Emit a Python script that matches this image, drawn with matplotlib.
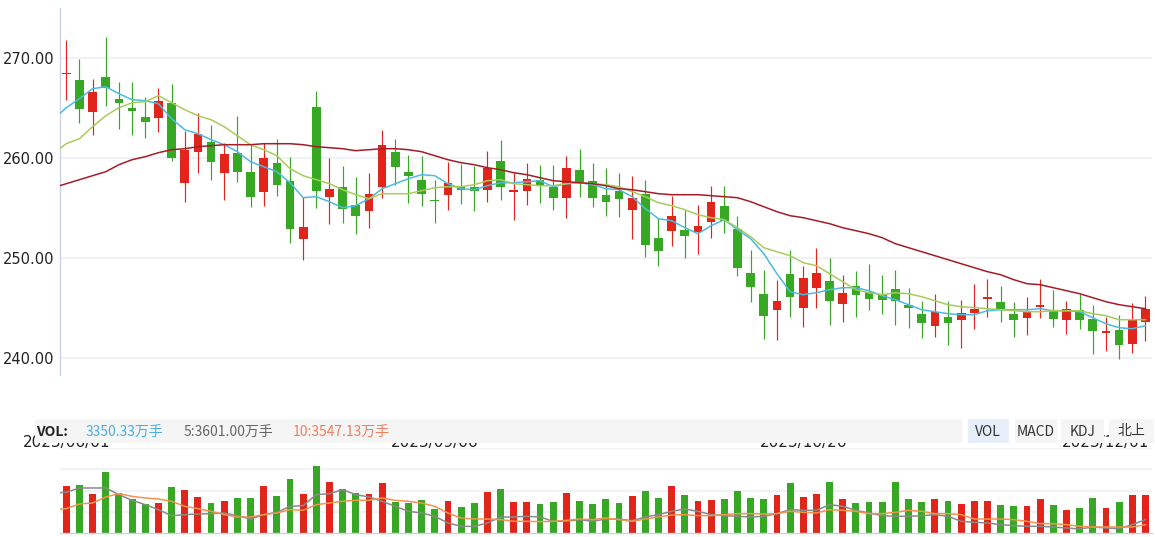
import numpy as np
import matplotlib
matplotlib.use("Agg")
import matplotlib.pyplot as plt
from matplotlib.patches import Rectangle

# daily candles, oldest first
opens = [268.4, 267.8, 264.6, 268.1, 265.9, 265.0, 264.1, 264.0, 265.5, 257.5,
         260.6, 261.6, 258.5, 260.5, 258.6, 256.6, 259.5, 257.7, 251.9, 265.1,
         256.1, 257.1, 255.3, 254.7, 257.1, 260.6, 258.6, 257.8, 255.7, 256.3,
         257.2, 257.1, 256.8, 259.7, 256.6, 256.7, 257.8, 257.1, 256.0, 258.8,
         257.7, 256.3, 256.7, 254.8, 256.4, 252.0, 252.7, 252.8, 252.6, 253.6,
         255.2, 252.9, 248.5, 246.4, 244.8, 248.4, 245.0, 247.0, 247.7, 245.4,
         247.2, 246.6, 246.3, 246.9, 245.3, 244.4, 243.2, 244.1, 243.8, 244.5,
         245.9, 245.6, 244.4, 244.0, 245.1, 244.8, 243.8, 244.8, 243.9, 242.5,
         242.8, 241.4, 243.6]
highs = [271.8, 269.9, 267.9, 272.1, 267.6, 267.6, 266.1, 267.0, 267.4, 262.7,
         264.5, 263.3, 261.5, 264.2, 261.3, 261.5, 261.9, 260.1, 256.1, 266.7,
         260.0, 259.2, 258.1, 258.5, 262.8, 261.9, 260.3, 260.2, 257.8, 259.6,
         259.4, 259.2, 260.7, 261.8, 258.5, 259.5, 259.3, 259.3, 260.2, 260.9,
         259.5, 259.0, 258.5, 258.2, 257.8, 254.0, 256.2, 254.8, 255.3, 257.2,
         257.2, 254.2, 250.8, 248.8, 247.8, 250.8, 249.2, 251.0, 250.0, 248.3,
         248.7, 249.4, 248.3, 248.8, 247.0, 245.7, 246.4, 245.7, 245.8, 247.4,
         247.9, 247.2, 245.6, 246.1, 247.9, 246.8, 245.7, 246.4, 245.3, 244.1,
         244.3, 245.5, 246.2]
lows = [265.8, 263.5, 262.3, 265.2, 262.9, 262.3, 262.0, 262.6, 259.7, 255.6,
        258.5, 257.8, 255.8, 257.6, 255.1, 255.2, 256.2, 251.5, 249.8, 255.0,
        253.4, 253.5, 252.4, 253.0, 256.0, 257.3, 255.5, 255.2, 253.5, 254.8,
        255.4, 254.7, 255.6, 255.8, 253.8, 255.3, 255.5, 254.8, 254.0, 256.1,
        255.1, 254.2, 254.1, 251.9, 250.1, 249.2, 251.2, 250.0, 250.4, 252.0,
        252.5, 248.2, 245.6, 241.9, 241.8, 244.1, 243.1, 245.0, 243.3, 243.6,
        244.1, 244.8, 244.4, 243.3, 243.0, 242.0, 242.1, 241.3, 241.0, 242.9,
        244.1, 243.6, 242.1, 242.3, 244.0, 243.1, 242.4, 242.9, 240.4, 240.7,
        239.9, 240.5, 241.7]
closes = [268.4, 264.9, 266.6, 267.0, 265.5, 264.7, 263.6, 265.7, 260.0, 260.8,
          262.4, 259.6, 260.4, 258.6, 256.1, 260.0, 257.3, 252.9, 253.1, 256.7,
          256.9, 254.9, 254.2, 256.4, 261.3, 259.1, 258.2, 256.4, 255.7, 257.5,
          256.8, 256.7, 259.0, 257.1, 256.8, 257.9, 257.2, 256.0, 259.0, 257.6,
          256.0, 255.6, 255.9, 256.0, 251.3, 250.7, 254.2, 252.2, 253.2, 255.6,
          253.7, 249.0, 247.1, 244.2, 245.7, 246.1, 248.0, 248.5, 245.7, 246.5,
          246.3, 245.9, 245.8, 245.7, 245.0, 243.5, 244.6, 243.5, 244.5, 244.9,
          246.1, 244.8, 243.8, 244.6, 245.3, 243.9, 244.9, 243.8, 242.7, 242.7,
          241.3, 243.9, 244.9]
# volume, 万手
volumes = [4136, 4224, 3437, 5360, 3525, 3000, 2563, 2651, 4049, 3787,
           3175, 2651, 2826, 3088, 3088, 4136, 3263, 4748, 3437, 5884,
           4486, 3874, 3525, 3437, 4399, 2738, 2651, 2913, 2126, 2826,
           2301, 2651, 3612, 3874, 2738, 2738, 2563, 2738, 3525, 2826,
           2563, 3000, 2651, 3263, 3700, 3088, 4136, 3350, 2826, 2913,
           3000, 3700, 3088, 3000, 3350, 4399, 3175, 3437, 4486, 3000,
           2651, 2738, 2738, 4486, 3000, 2738, 3000, 2826, 2563, 2826,
           2826, 2476, 2389, 2389, 3000, 2476, 2039, 2214, 3088, 2214,
           2738, 3350, 3350.33]

# moving-average curves as drawn; first value sits one session left of the first candle
ma5 = [263.8,
       265.0, 265.9, 266.9, 267.1, 266.4, 265.8, 265.7, 265.4, 263.9, 262.8,
       262.4, 261.8, 261.3, 260.6, 259.6, 259.1, 258.6, 257.5, 256.0, 256.1,
       255.6, 255.0, 255.2, 255.9, 256.9, 257.4, 257.9, 258.3, 258.2, 257.4,
       256.9, 256.8, 257.2, 257.5, 257.5, 257.6, 257.7, 257.1, 257.4, 257.5,
       257.3, 256.9, 256.8, 256.1, 254.9, 253.9, 253.7, 253.0, 252.4, 253.2,
       253.8, 252.8, 251.9, 250.4, 248.4, 246.6, 246.3, 246.5, 246.8, 247.0,
       247.0, 246.7, 246.2, 245.8, 245.3, 244.8, 244.6, 244.4, 244.3, 244.3,
       244.7, 244.8, 244.8, 244.8, 244.9, 244.7, 244.7, 244.6, 244.0, 243.4,
       243.0, 242.9, 243.2]
ma10 = [260.4,
        261.4, 261.9, 263.1, 264.2, 265.0, 265.5, 265.6, 266.2, 265.5, 264.8,
        264.2, 263.8, 263.1, 262.2, 261.3, 260.8, 260.2, 258.9, 258.2, 257.8,
        257.4, 256.8, 256.3, 255.9, 256.4, 256.4, 256.4, 256.7, 257.0, 257.1,
        257.1, 257.3, 257.7, 257.8, 257.4, 257.3, 257.2, 257.2, 257.4, 257.5,
        257.4, 257.3, 257.1, 256.6, 256.1, 255.5, 255.2, 254.8, 254.3, 254.0,
        253.8, 253.0, 252.1, 251.0, 250.6, 250.2, 249.5, 249.2, 248.4, 247.6,
        246.8, 246.5, 246.3, 246.5, 246.4, 246.1, 245.7, 245.3, 245.1, 245.0,
        244.9, 244.8, 244.7, 244.6, 244.6, 244.7, 244.7, 244.7, 244.4, 244.2,
        243.8, 243.8, 243.8]
ma_long = [257.0,
           257.4, 257.8, 258.2, 258.6, 259.3, 259.8, 260.1, 260.5, 260.8, 260.9,
           261.1, 261.2, 261.3, 261.3, 261.3, 261.4, 261.4, 261.4, 261.3, 261.1,
           261.0, 260.9, 260.7, 260.8, 260.9, 260.9, 260.8, 260.6, 260.2, 259.8,
           259.5, 259.3, 259.0, 258.8, 258.5, 258.3, 258.0, 257.7, 257.6, 257.5,
           257.4, 257.2, 256.9, 256.8, 256.6, 256.4, 256.3, 256.3, 256.3, 256.2,
           256.1, 256.0, 255.6, 255.1, 254.6, 254.2, 254.0, 253.7, 253.4, 253.0,
           252.7, 252.4, 252.0, 251.4, 251.0, 250.6, 250.2, 249.8, 249.4, 249.0,
           248.6, 248.3, 247.8, 247.4, 247.3, 247.0, 246.7, 246.4, 246.0, 245.6,
           245.3, 245.1, 244.9]
vol_ma5 = [3496,
           3554, 3933, 3933, 3933, 3350, 2855, 2476, 2039, 1515, 1602,
           1660, 1690, 1748, 1515, 1223, 1602, 1806, 2330, 2389, 3350,
           3437, 3787, 3350, 3146, 2767, 2330, 1893, 1748, 1457, 874,
           583, 583, 874, 1398, 1398, 1457, 1398, 1020, 1020, 1165,
           1020, 1223, 1223, 1078, 1398, 1602, 1893, 2097, 1893, 1602,
           1515, 1457, 1398, 1457, 1690, 2039, 1981, 1981, 2476, 2330,
           1981, 1748, 1515, 1457, 1457, 1515, 1602, 1457, 1020, 932,
           874, 728, 641, 583, 583, 524, 437, 350, 524, 437,
           379, 728, 1165]
vol_ma10 = [2039,
            2126, 2534, 2622, 3146, 3437, 3204, 3059, 2971, 2767, 2330,
            2126, 1893, 1602, 1398, 1398, 1602, 1748, 2039, 1981, 2476,
            2622, 2767, 2855, 2855, 3059, 2855, 2767, 2622, 2330, 1748,
            1311, 1223, 1223, 1165, 1020, 1020, 990, 1020, 1107, 1223,
            1165, 1311, 1165, 1020, 1223, 1398, 1573, 1602, 1515, 1515,
            1602, 1690, 1690, 1660, 1690, 1893, 1806, 1748, 2039, 1981,
            1893, 1690, 1690, 1806, 1981, 1893, 1690, 1690, 1602, 1223,
            1223, 1223, 1165, 1020, 816, 816, 728, 583, 524, 524,
            524, 524, 728]

price_ticks = [240, 250, 260, 270]
date_labels = ["2023/06/01", "2023/09/06", "2023/10/26", "2023/12/01"]
date_idx = [0, 28, 56, 79]
vol_texts = ["3350.33万手", "5:3601.00万手", "10:3547.13万手"]
vol_text_colors = ["#4aaee0", "#666666", "#f07e5a"]
tabs = ["VOL", "MACD", "KDJ", "北上"]

RED = "#e0251b"
GREEN = "#36a823"
CJK = ["Noto Sans CJK SC", "DejaVu Sans"]
W, H = 1155, 537


def fx(px):
    return px / W


def fy(py):
    return 1 - py / H


fig = plt.figure(figsize=(W / 100, H / 100), dpi=100)
fig.patch.set_facecolor("white")

n = len(closes)
x = np.arange(n)
xm = np.arange(-1, n)
o = np.array(opens)
c = np.array(closes)
up = [c[i] > o[i] if c[i] != o[i] else (i == 0 or c[i] >= c[i - 1]) for i in range(n)]
colors = [RED if u else GREEN for u in up]

# price panel
ax = fig.add_axes([fx(59.7), fy(375), fx(1152 - 59.7), (375 - 8) / H])
ax.set_xlim(-0.5, n - 0.5)
ax.set_ylim(238.27, 274.97)
for t in price_ticks:
    ax.axhline(t, color="#f0f2f6", lw=1.6, zorder=0)
body_h = np.maximum(np.abs(c - o), 0.14)
body_bottom = (o + c) / 2 - body_h / 2
ax.vlines(x, lows, highs, colors=colors, lw=0.85, zorder=2)
ax.bar(x, body_h, bottom=body_bottom, width=0.66, color=colors, zorder=3)
ax.plot(xm, ma5, color="#4dbbdf", lw=1.1, zorder=4)
ax.plot(xm, ma10, color="#a8cc5c", lw=1.1, zorder=4)
ax.plot(xm, ma_long, color="#a21d27", lw=1.1, zorder=4)
ax.set_yticks(price_ticks)
ax.set_yticklabels(["%.2f" % t for t in price_ticks], fontsize=10.5, color="#222222")
ax.tick_params(axis="y", length=0, pad=4)
ax.set_xticks([])
for s in ["top", "right", "bottom"]:
    ax.spines[s].set_visible(False)
ax.spines["left"].set_color("#c9d3e6")
ax.spines["left"].set_linewidth(1)

# volume panel
axv = fig.add_axes([fx(59.7), fy(533), fx(1152 - 59.7), (533 - 448.3) / H])
axv.set_xlim(-0.5, n - 0.5)
axv.set_ylim(0, 7400)
for t in [1850, 3700, 5550, 7400]:
    axv.axhline(t, color="#f0f2f6", lw=1.6, zorder=0)
axv.bar(x, volumes, width=0.52, color=colors, zorder=2)
axv.plot(xm, vol_ma5, color="#8a8a8a", lw=1.1, zorder=3)
axv.plot(xm, vol_ma10, color="#f3934e", lw=1.1, zorder=3)
axv.set_xticks([])
axv.set_yticks([])
for s in ["top", "right", "left"]:
    axv.spines[s].set_visible(False)
axv.spines["bottom"].set_color("#c9d3e6")
axv.spines["bottom"].set_linewidth(1)
axv.patch.set_alpha(0)

# date labels, partly hidden by the VOL strip
for lab, i in zip(date_labels, date_idx):
    xp = 59.7 + (i + 0.5) * (1152 - 59.7) / n
    fig.text(fx(xp), fy(447.5), lab, ha="center", va="baseline",
             fontsize=11, color="#222222", zorder=1)

# VOL strip
fig.patches.append(Rectangle((fx(35), fy(442.7)), fx(962 - 35), 23.4 / H,
                             transform=fig.transFigure, facecolor="#f5f5f5",
                             edgecolor="none", zorder=5))
fig.text(fx(36), fy(431.5), "VOL:", ha="left", va="center", fontsize=10,
         fontweight="bold", color="#222222", family=CJK, zorder=6)
for txt, col, xp in zip(vol_texts, vol_text_colors, [86, 184, 292.6]):
    fig.text(fx(xp), fy(431.5), txt, ha="left", va="center", fontsize=10,
             color=col, family=CJK, zorder=6)

tab_x = [(967.6, 1009), (1014.6, 1056.5), (1061, 1103.5), (1108.7, 1154)]
for k, (lab, (x0, x1)) in enumerate(zip(tabs, tab_x)):
    fc = "#e6eef9" if k == 0 else "#f5f5f5"
    fig.patches.append(Rectangle((fx(x0), fy(442.7)), fx(x1 - x0), 23.4 / H,
                                 transform=fig.transFigure, facecolor=fc,
                                 edgecolor="none", zorder=5))
    fig.text(fx((x0 + x1) / 2), fy(431.5), lab, ha="center", va="center",
             fontsize=10, color="#333333", family=CJK, zorder=6)

fig.savefig("out.png", dpi=100, facecolor="white")
